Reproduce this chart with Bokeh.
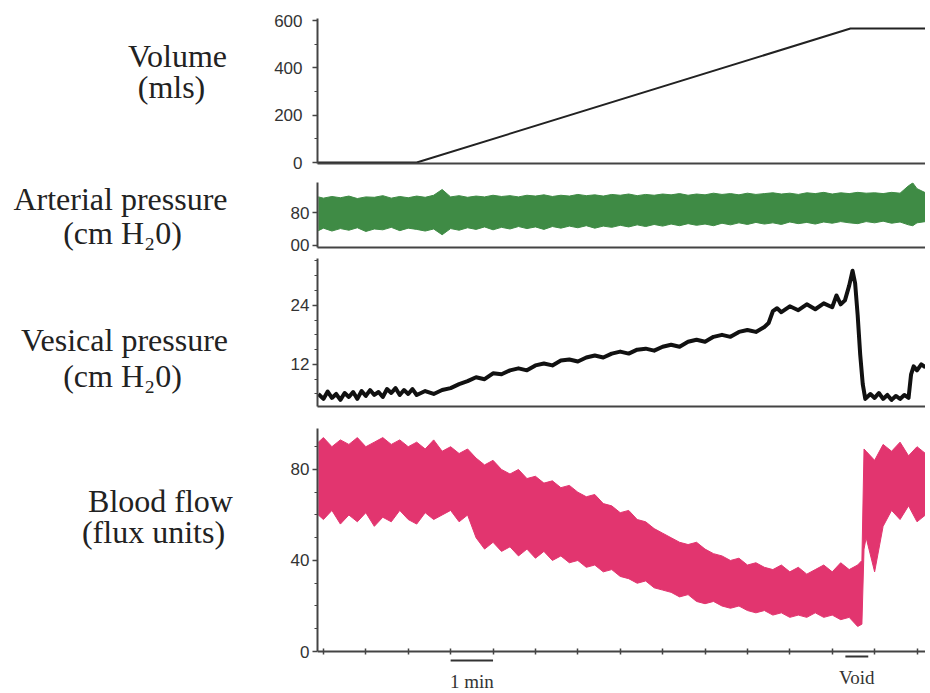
from bokeh.plotting import figure
from bokeh.layouts import column, row
from bokeh.models import Range1d, FixedTicker
from bokeh.core.properties import value
from bokeh.embed import file_html
from bokeh.resources import INLINE

# ---------------- data (time in minutes) ----------------
vol_t = [-0.14, 2.2, 12.43, 14.2]
vol_ml = [0, 0, 566, 566]

ap_t = [-0.12, 0.0, 0.2, 0.4, 0.6, 0.8, 1.0, 1.2, 1.4, 1.6, 1.8, 2.0, 2.2, 2.4, 2.6, 2.8,
        3.0, 3.2, 3.4, 3.6, 3.8, 4.0, 4.2, 4.4, 4.6, 4.8, 5.0, 5.2, 5.4, 5.6, 5.8, 6.0,
        6.2, 6.4, 6.6, 6.8, 7.0, 7.2, 7.4, 7.6, 7.8, 8.0, 8.2, 8.4, 8.6, 8.8, 9.0, 9.2,
        9.4, 9.6, 9.8, 10.0, 10.2, 10.4, 10.6, 10.8, 11.0, 11.2, 11.4, 11.6, 11.8, 12.0,
        12.2, 12.4, 12.6, 12.8, 13.0, 13.2, 13.4, 13.6, 13.8, 13.9, 14.0, 14.2]
ap_hi = [118, 115, 119, 116, 120, 114, 118, 117, 121, 115, 119, 116, 120, 117, 122, 136,
         118, 121, 117, 120, 118, 122, 119, 121, 118, 122, 120, 123, 119, 122, 120, 124,
         121, 123, 120, 124, 122, 125, 121, 124, 122, 125, 123, 126, 122, 125, 123, 127,
         124, 126, 123, 127, 124, 126, 128, 125, 127, 124, 128, 126, 129, 125,
         128, 126, 129, 127, 128, 126, 129, 127, 145, 152, 138, 128]
ap_lo = [36, 42, 35, 41, 37, 43, 34, 40, 38, 44, 36, 42, 39, 35, 40, 26,
         41, 37, 43, 39, 45, 38, 44, 40, 46, 41, 45, 39, 46, 42, 47, 43,
         48, 42, 47, 44, 49, 45, 50, 46, 51, 47, 52, 48, 53, 49, 52, 48,
         54, 50, 55, 51, 56, 52, 55, 51, 57, 53, 56, 52, 57, 54,
         58, 55, 53, 58, 55, 59, 54, 57, 50, 48, 55, 58]

ves_t = [-0.12, 0.0, 0.1, 0.2, 0.3, 0.4, 0.5, 0.6, 0.7, 0.8, 0.9, 1.0, 1.1, 1.2, 1.3, 1.4,
         1.5, 1.6, 1.7, 1.8, 1.9, 2.0, 2.1, 2.2, 2.4, 2.6, 2.8, 3.0, 3.2, 3.4, 3.6, 3.8,
         4.0, 4.2, 4.4, 4.6, 4.8, 5.0, 5.2, 5.4, 5.6, 5.8, 6.0, 6.2, 6.4, 6.6, 6.8, 7.0,
         7.2, 7.4, 7.6, 7.8, 8.0, 8.2, 8.4, 8.6, 8.8, 9.0, 9.2, 9.4, 9.6, 9.8, 10.0, 10.2,
         10.4, 10.5, 10.6, 10.7, 10.8, 11.0, 11.2, 11.4, 11.6, 11.8, 12.0, 12.1, 12.2, 12.3,
         12.4, 12.48, 12.54, 12.6, 12.66, 12.72, 12.78, 12.9, 13.0, 13.1, 13.2, 13.3, 13.4,
         13.5, 13.6, 13.7, 13.8, 13.86, 13.92, 14.0, 14.1, 14.2]
ves_cm = [6.0, 5.0, 6.5, 5.2, 6.0, 4.8, 6.2, 5.4, 6.4, 5.0, 6.6, 5.6, 6.8, 5.8, 6.4, 5.4,
          7.0, 6.2, 7.2, 5.8, 6.8, 6.0, 7.0, 5.8, 6.6, 6.0, 6.8, 7.2, 8.0, 8.6, 9.4, 9.0,
          10.2, 10.0, 10.8, 11.2, 10.8, 11.8, 12.2, 11.8, 12.8, 13.0, 12.6, 13.4, 13.8, 13.4, 14.2, 14.6,
          14.2, 15.0, 15.2, 14.8, 15.6, 16.0, 15.6, 16.6, 17.0, 16.6, 17.6, 18.0, 17.6, 18.6, 19.0, 18.6,
          19.6, 20.4, 22.8, 23.4, 22.6, 23.8, 23.0, 24.2, 23.2, 24.4, 23.6, 26.0, 24.2, 25.0,
          28.0, 31.0, 28.5, 22.0, 14.0, 8.0, 5.0, 6.0, 5.2, 6.2, 5.0, 5.8, 4.8,
          5.6, 5.0, 5.8, 5.2, 10.0, 11.6, 10.8, 12.0, 11.4]

bf_t = [-0.12, 0.0, 0.2, 0.4, 0.6, 0.8, 1.0, 1.2, 1.4, 1.6, 1.8, 2.0, 2.2, 2.4, 2.6, 2.8,
        3.0, 3.2, 3.4, 3.6, 3.8, 4.0, 4.2, 4.4, 4.6, 4.8, 5.0, 5.2, 5.4, 5.6, 5.8, 6.0,
        6.2, 6.4, 6.6, 6.8, 7.0, 7.2, 7.4, 7.6, 7.8, 8.0, 8.2, 8.4, 8.6, 8.8, 9.0, 9.2,
        9.4, 9.6, 9.8, 10.0, 10.2, 10.4, 10.6, 10.8, 11.0, 11.2, 11.4, 11.6, 11.8, 12.0,
        12.2, 12.4, 12.6, 12.7, 12.75, 12.8, 13.0, 13.2, 13.4, 13.6, 13.8, 14.0, 14.2]
bf_hi = [92, 94, 90, 93, 91, 94, 90, 92, 94, 91, 93, 90, 92, 89, 93, 88,
         90, 87, 89, 85, 82, 84, 80, 78, 80, 76, 77, 74, 75, 72, 73, 70,
         68, 69, 65, 64, 61, 62, 58, 57, 54, 52, 50, 48, 47, 48, 45, 43,
         42, 40, 41, 38, 39, 37, 36, 38, 35, 37, 34, 36, 38, 35,
         39, 36, 38, 40, 89, 88, 84, 91, 88, 92, 86, 90, 87]
bf_lo = [60, 58, 62, 56, 60, 57, 61, 55, 59, 57, 62, 58, 56, 61, 58, 60,
         62, 57, 60, 50, 45, 48, 44, 46, 42, 45, 41, 44, 40, 42, 39, 40,
         37, 38, 35, 36, 33, 32, 30, 31, 28, 27, 26, 24, 25, 22, 21, 22,
         20, 19, 20, 18, 17, 18, 16, 17, 15, 16, 15, 17, 15, 16,
         14, 15, 11, 12, 45, 50, 35, 55, 62, 58, 64, 57, 60]

vol_ticks = [0, 200, 400, 600]
ap_ticks = [0, 80]
ap_tick_labels = {0: "00", 80: "80"}
ves_ticks = [12, 24]
bf_ticks = [0, 40, 80]
minute_ticks = list(range(0, 15))
scale_bar = [3, 4]            # "1 min"
void_bar = [12.31, 12.85]     # "Void"

panel_labels = [("Volume", "(mls)"),
                ("Arterial pressure", "(cm H\u20820)"),
                ("Vesical pressure", "(cm H\u20820)"),
                ("Blood flow", "(flux units)")]

# ---------------- layout (page pixels) ----------------
X0, X1 = -0.14, 14.2
LABEL_W = 262
FRAME_L, FRAME_R = 317, 925
TOTAL_H = 692
xr = Range1d(X0, X1)

AXIS_COLOR = "#444444"
TICK_FONT = "Liberation Sans"
LABEL_FONT = "Liberation Serif"

# left label column: centre x / centre y of each text line
lab_x = [177, 171, 120, 122, 124, 122, 160, 153]
lab_y = [55, 86, 198, 232, 339, 375, 500, 531]
lab_text = [s for pair in panel_labels for s in pair]

lf = figure(width=LABEL_W, height=TOTAL_H, x_range=Range1d(0, LABEL_W),
            y_range=Range1d(TOTAL_H, 0), output_backend="svg", toolbar_location=None,
            x_axis_type=None, y_axis_type=None, min_border=0)
lf.outline_line_color = None
lf.xgrid.visible = False
lf.ygrid.visible = False
lf.text(x=lab_x, y=lab_y, text=lab_text, text_align="center", text_baseline="middle",
        text_font=value(LABEL_FONT), text_font_size=value("32px"), text_color="#222222")


def make_fig(fig_top, frame_top, frame_bottom, fig_bottom, y0, y1):
    p = figure(width=FRAME_R - LABEL_W, height=fig_bottom - fig_top, x_range=xr,
               y_range=Range1d(y0, y1), output_backend="svg", toolbar_location=None,
               min_border_left=FRAME_L - LABEL_W, min_border_right=0,
               min_border_top=frame_top - fig_top, min_border_bottom=fig_bottom - frame_bottom)
    p.outline_line_color = None
    p.xgrid.visible = False
    p.ygrid.visible = False
    for ax in (p.xaxis[0], p.yaxis[0]):
        ax.axis_line_color = AXIS_COLOR
        ax.axis_line_width = 2
        ax.major_tick_line_color = AXIS_COLOR
        ax.minor_tick_line_color = AXIS_COLOR
        ax.major_tick_line_width = 1.5
        ax.minor_tick_line_width = 1.2
    ya = p.yaxis[0]
    ya.major_tick_in = 0
    ya.major_tick_out = 5
    ya.minor_tick_in = 0
    ya.minor_tick_out = 3
    ya.major_label_text_font = TICK_FONT
    ya.major_label_text_font_size = "17px"
    ya.major_label_text_color = "#333333"
    ya.major_label_standoff = 3
    xa = p.xaxis[0]
    xa.ticker = FixedTicker(ticks=[])
    xa.major_label_text_font_size = "1px"
    xa.major_label_text_color = None
    xa.major_label_standoff = 0
    xa.major_tick_out = 0
    xa.major_tick_in = 0
    xa.minor_tick_out = 0
    xa.minor_tick_in = 0
    return p


# Volume
p1 = make_fig(0, 18, 163, 172, -4.2, 608.5)
p1.yaxis.ticker = FixedTicker(ticks=vol_ticks, minor_ticks=[100, 300, 500])
p1.yaxis.major_label_standoff = 10
p1.line(vol_t, vol_ml, line_color="#222222", line_width=2)

# Arterial pressure
p2 = make_fig(172, 182, 247, 256, -5, 153)
p2.yaxis.ticker = FixedTicker(ticks=ap_ticks)
p2.yaxis.major_label_overrides = ap_tick_labels
p2.varea(x=ap_t, y1=ap_lo, y2=ap_hi, fill_color="#3f8b45")
p2.line(ap_t, ap_hi, line_color="#3f8b45", line_width=1)
p2.line(ap_t, ap_lo, line_color="#3f8b45", line_width=1)

# Vesical pressure
p3 = make_fig(256, 258, 406, 416, 3.46, 33.5)
p3.yaxis.ticker = FixedTicker(ticks=ves_ticks, minor_ticks=[6, 9, 15, 18, 21, 27, 30, 33])
p3.line(ves_t, ves_cm, line_color="#111111", line_width=4, line_join="round")

# Blood flow: frame runs down to the page bottom so the time markers fit inside it;
# the x axis is drawn at flux 0 and the y axis is bounded to the data part.
BF_ZERO_PX, BF_TOP_PX, BF_TOP = 651, 428, 98.0
bf_scale = (BF_ZERO_PX - BF_TOP_PX) / BF_TOP          # px per flux unit
BF_FRAME_BOTTOM = TOTAL_H
p4 = make_fig(416, 428, BF_FRAME_BOTTOM, TOTAL_H,
              -(BF_FRAME_BOTTOM - BF_ZERO_PX) / bf_scale, BF_TOP)
p4.min_border_bottom = 0
p4.yaxis.ticker = FixedTicker(ticks=bf_ticks, minor_ticks=[10, 20, 30, 50, 60, 70, 90])
p4.yaxis.bounds = (0, BF_TOP)
xa4 = p4.xaxis[0]
xa4.fixed_location = 0
xa4.ticker = FixedTicker(ticks=minute_ticks)
xa4.major_tick_in = 3
xa4.major_tick_out = 3
p4.varea(x=bf_t, y1=bf_lo, y2=bf_hi, fill_color="#e2356f")
p4.line(bf_t, bf_hi, line_color="#e2356f", line_width=1)
p4.line(bf_t, bf_lo, line_color="#e2356f", line_width=1)


def bf_px(py):
    return (BF_ZERO_PX - py) / bf_scale


p4.segment(x0=[scale_bar[0], void_bar[0]], x1=[scale_bar[1], void_bar[1]],
           y0=[bf_px(660), bf_px(656)], y1=[bf_px(660), bf_px(656)],
           line_color="#333333", line_width=2)
p4.text(x=[sum(scale_bar) / 2, sum(void_bar) / 2], y=[bf_px(681), bf_px(677)],
        text=["1 min", "Void"], text_align="center", text_baseline="middle",
        text_font=value(LABEL_FONT), text_font_size=value("19px"), text_color="#333333")

layout = row(lf, column(p1, p2, p3, p4, spacing=0), spacing=0)
open("out.html", "w").write(file_html(layout, INLINE))
